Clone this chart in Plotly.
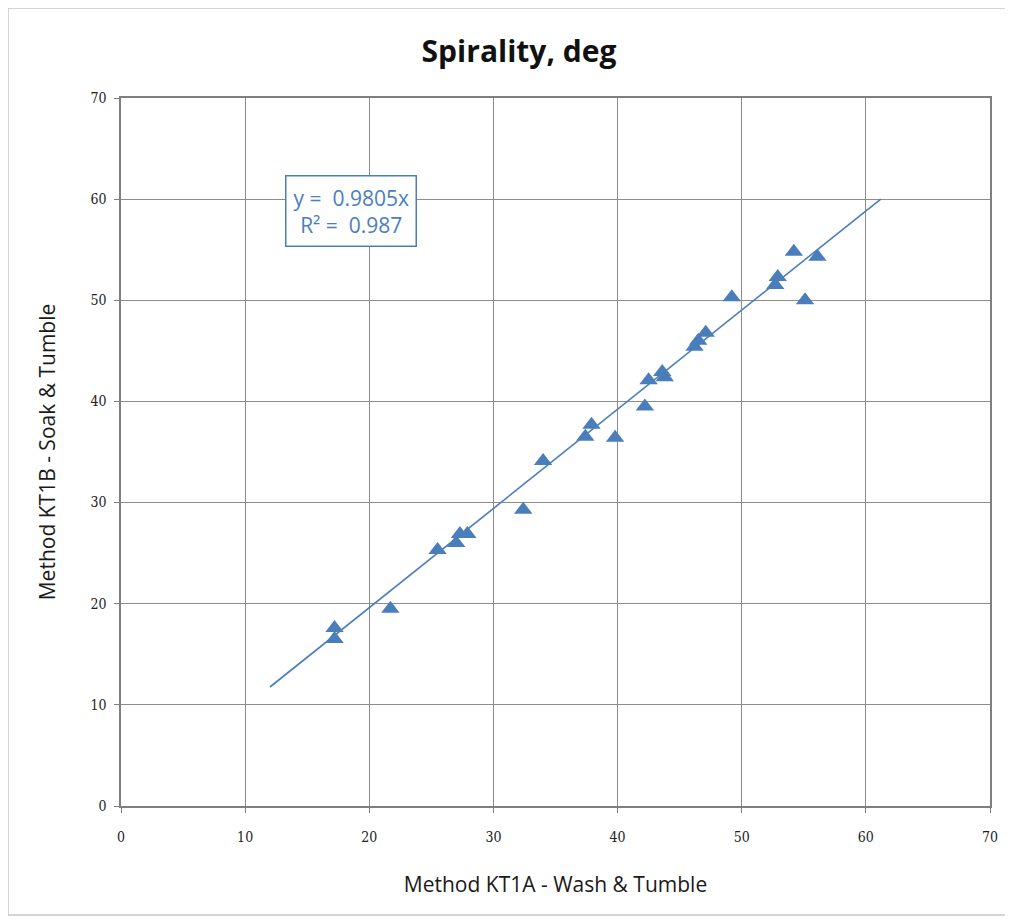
import plotly.graph_objects as go

# Data
kt1a_wash = [17.2, 17.2, 21.7, 25.5, 27.0, 27.3, 27.9, 32.4, 34.0, 37.4, 37.9, 39.8,
             42.2, 42.5, 43.6, 43.8, 46.2, 46.5, 47.1, 49.2, 52.7, 52.9, 54.2, 55.1, 56.1]
kt1b_soak = [16.5, 17.6, 19.5, 25.3, 26.0, 26.9, 26.9, 29.3, 34.1, 36.5, 37.7, 36.4,
             39.5, 42.1, 42.9, 42.4, 45.4, 46.0, 46.8, 50.3, 51.5, 52.3, 54.8, 50.0, 54.3]
trend_slope = 0.9805
trend_r2 = 0.987
trend_x = [12.0, 61.2]
trend_y = [trend_slope * v for v in trend_x]
ticks = [0, 10, 20, 30, 40, 50, 60, 70]

blue = "#4a7ebb"
tick_font = dict(family="DejaVu Serif Condensed, Liberation Serif, serif", size=14, color="#222222")
label_font = dict(family="Open Sans, Noto Sans, sans-serif", size=21, color="#1a1a1a")

W, H = 1005, 912
L, R, T, B = 113, 23, 90, 114
pw, ph = W - L - R, H - T - B

fig = go.Figure()
fig.add_trace(go.Scatter(x=trend_x, y=trend_y, mode="lines",
                         line=dict(color=blue, width=1.6), showlegend=False,
                         hoverinfo="skip"))
fig.add_trace(go.Scatter(x=kt1a_wash, y=kt1b_soak, mode="markers",
                         marker=dict(symbol="triangle-up", size=16, color=blue,
                                     line=dict(width=0)),
                         showlegend=False))

axis_common = dict(range=[0, 70], tickvals=ticks, ticktext=[str(t) for t in ticks],
                   showgrid=True, gridcolor="#8c8c8c", gridwidth=1,
                   showline=True, linecolor="#7f7f7f", linewidth=1.5, mirror=True,
                   ticks="outside", ticklen=5, tickcolor="#7f7f7f",
                   tickfont=tick_font, zeroline=False)

fig.update_layout(
    width=W, height=H,
    margin=dict(l=L, r=R, t=T, b=B),
    paper_bgcolor="white", plot_bgcolor="white",
    title=dict(text="<b>Spirality, deg</b>", x=511 / W, xanchor="center",
               y=1 - 43 / H, yanchor="middle",
               font=dict(family="Open Sans, Noto Sans, sans-serif", size=30, color="#111111")),
    xaxis=dict(axis_common, ticklabelstandoff=12,
               title=dict(text="Method KT1A - Wash & Tumble", font=label_font, standoff=34)),
    yaxis=dict(axis_common, ticklabelstandoff=5,
               title=dict(text="Method KT1B - Soak & Tumble", font=label_font, standoff=29)),
)

fig.add_annotation(x=18.5, y=58.8, xref="x", yref="y",
                   text=f"y =  {trend_slope}x<br>R² =  {trend_r2}",
                   showarrow=False, align="center",
                   font=dict(family="Open Sans, Noto Sans, sans-serif", size=21, color=blue),
                   bordercolor=blue, borderwidth=1.5, borderpad=7, bgcolor="white")

# outer chart border
fig.add_shape(type="rect", xref="paper", yref="paper",
              x0=-L / pw, x1=(1002 - L) / pw, y0=-(907 - (H - B)) / ph, y1=1 + T / ph,
              line=dict(color="#c8c8c8", width=1.5), layer="below")

fig.write_html("out.html")
